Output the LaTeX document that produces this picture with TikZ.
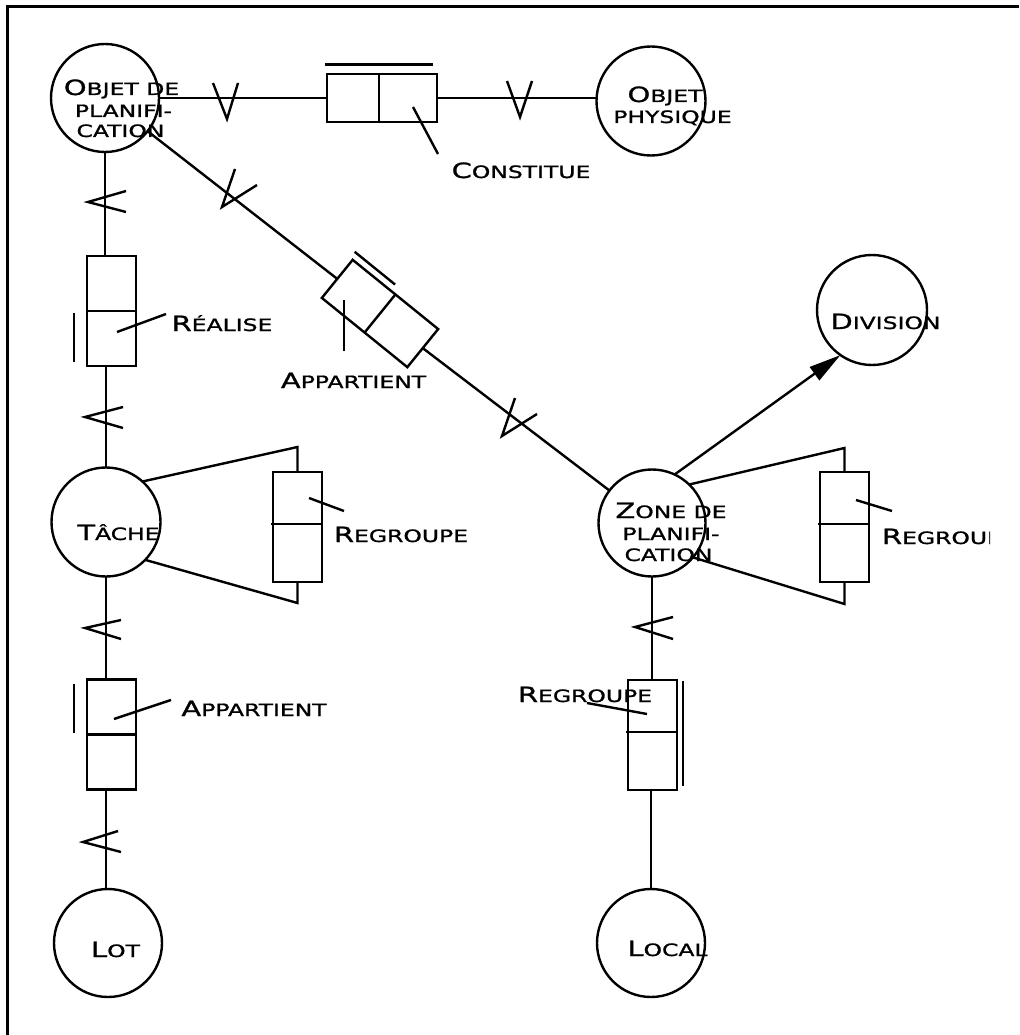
\documentclass[tikz,border=0pt]{standalone}
\usepackage{fontspec}
\newfontfamily\cpfont{DejaVu Sans}[FakeStretch=1.38,FakeBold=1.2]
\usetikzlibrary{arrows.meta}
\newcommand\cpt[2]{{\cpfont\fontsize{21}{24}\selectfont #1\fontsize{17}{20}\selectfont #2}}
\begin{document}
\begin{tikzpicture}[x=1pt,y=-1pt,line width=2.4pt,
  ent/.style={circle,draw,inner sep=0pt,outer sep=0pt,minimum size=#1},
  ent/.default=108pt,
  relv/.style={rectangle,draw,inner sep=0pt,outer sep=0pt,minimum width=49pt,minimum height=110pt},
  relh/.style={rectangle,draw,inner sep=0pt,outer sep=0pt,minimum width=110pt,minimum height=48pt},
  txt/.style={anchor=base,inner sep=0pt,outer sep=0pt},
  frameline/.style={line width=3pt}]
\useasboundingbox (0,0) rectangle (1019,1035);
\draw[frameline] (7,1035) -- (7,7) -- (1019,7);

% entities
\node[ent] (objet) at (105,98) {};
\node[ent=109pt] (phys) at (651,101) {};
\node[ent=110pt] (div) at (872,310) {};
\node[ent=109pt] (tache) at (106,522) {};
\node[ent=107pt] (zone) at (652,523) {};
\node[ent] (lot) at (108,943) {};
\node[ent] (local) at (651,943) {};

% relation boxes
\node[relh] (constB) at (382,98) {};
\node[relv] (realB) at (111.5,311) {};
\node[relh,minimum height=49pt,rotate=-39] (appD) at (380,313.5) {};
\node[relv] (tR) at (297.5,527) {};
\node[relv] (zR) at (844.5,527) {};
\node[relv] (appL) at (111.5,734.5) {};
\node[relv] (zB) at (652.5,735) {};

% dividers
\draw ([xshift=-3pt]constB.north) -- ([xshift=-3pt]constB.south);
\draw (realB.west) -- (realB.east);
\draw (appD.north) -- (appD.south);
\draw ([xshift=-2pt,yshift=3pt]tR.west) -- ([yshift=3pt]tR.east);
\draw ([xshift=-2pt,yshift=3pt]zR.west) -- ([yshift=3pt]zR.east);
\draw (appL.west) -- (appL.east);
\draw ([xshift=-2pt,yshift=3pt]zB.west) -- ([yshift=3pt]zB.east);

% cardinality bars
\draw ([xshift=-2pt,yshift=9.5pt]constB.north west) -- ([xshift=-4pt,yshift=9.5pt]constB.north east);
\draw ([xshift=-13pt,yshift=-2pt]realB.west) -- ([xshift=-13pt,yshift=-51pt]realB.west);
\draw ([xshift=-13pt,yshift=50.5pt]appL.west) -- ([xshift=-13pt,yshift=1.5pt]appL.west);
\draw ([xshift=6pt,yshift=54pt]zB.east) -- ([xshift=6pt,yshift=-51pt]zB.east);
\begin{scope}[shift={(appD.center)},rotate=-39]
  \draw (-58.5pt,32pt) -- (-6.5pt,32pt);
\end{scope}
\draw ([shift={(-36,-13.5)}]appD.center) -- ([shift={(-36,37.5)}]appD.center);

% connectors
\draw (objet.east) -- (constB.west);
\draw (constB.east) -- (constB.east -| phys.west);
\draw (objet) -- (appD.west);
\draw (appD.east) -- (zone);
\draw (objet.south) -- (objet.south |- realB.north);
\draw (tache.north |- realB.south) -- (tache.north);
\draw (tache.south) -- (tache.south |- appL.north);
\draw (tache.south |- appL.south) -- (tache.south |- lot.north);
\draw (tache.48) -- ([yshift=25pt]tR.north) -- (tR.north);
\draw (tR.south) -- ([yshift=-21pt]tR.south) -- (tache.-44);
\draw (zone.46) -- ([yshift=24pt]zR.north) -- (zR.north);
\draw (zR.south) -- ([yshift=-22pt]zR.south) -- (zone.-40);
\draw[-{Triangle[length=32pt,width=16pt]}] (zone.65) -- (div.235);
\draw (zone.south) -- (zone.south |- zB.north);
\draw (zB.south -| local.north) -- (local.north);

% crow-foot ticks
\draw (213,83) -- (227,119) -- (238,83);
\draw (507,81) -- (520,117) -- (532,81);
\draw (126,191) -- (88,202) -- (126,212);
\draw (123,407) -- (85,417) -- (123,428);
\draw (121,620) -- (85,628) -- (121,639);
\draw (118,831) -- (83,842) -- (121,852);
\draw (235,169) -- (222,207) -- (257,185);
\draw (515,398) -- (502,436) -- (537,414);
\draw (673,617) -- (635,627) -- (673,639);

% leaders
\draw ([shift={(31,9)}]constB.center) -- ([shift={(56,56)}]constB.center);
\draw ([shift={(5.5,21)}]realB.center) -- ([shift={(54.5,3)}]realB.center);
\draw ([shift={(11.5,-29)}]tR.center) -- ([shift={(46.5,-16)}]tR.center);
\draw ([shift={(11.5,-27)}]zR.center) -- ([shift={(47.5,-16)}]zR.center);
\draw ([shift={(2.5,-15.5)}]appL.center) -- ([shift={(59.5,-34.5)}]appL.center);
\draw ([shift={(-65.5,-32)}]zB.center) -- ([shift={(-5.5,-21)}]zB.center);

% texts
\node[txt] (tObj1) at (121.5,95) {\cpt{O}{BJET DE}};
\node[txt] (tObj2) at (123.5,117) {\cpt{}{PLANIFI-}};
\node[txt] (tObj3) at (120.5,137) {\cpt{}{CATION}};
\node[txt] (tPhy1) at (665,102) {\cpt{O}{BJET}};
\node[txt] (tPhy2) at (672.5,123) {\cpt{}{PHYSIQUE}};
\node[txt] (tCons) at (521,178) {\cpt{C}{ONSTITUE}};
\node[txt] (tReal) at (222,331) {\cpt{R}{ÉALISE}};
\node[txt] (tAppD) at (353.5,388) {\cpt{A}{PPARTIENT}};
\node[txt] (tDiv) at (885.5,329) {\cpt{D}{IVISION}};
\node[txt] (tTache) at (118.5,540) {\cpt{T}{ÂCHE}};
\node[txt] (tRegT) at (401,542) {\cpt{R}{EGROUPE}};
\node[txt] (tZone1) at (671,518) {\cpt{Z}{ONE DE}};
\node[txt] (tZone2) at (671,540) {\cpt{}{PLANIFI-}};
\node[txt] (tZone3) at (668.5,561) {\cpt{}{CATION}};
\begin{scope}
  \clip (0,0) rectangle (990,1035);
  \node[txt,anchor=base west] (tRegZ) at (882,544) {\cpt{R}{EGROUPE}};
\end{scope}
\node[txt] (tAppL) at (254,716) {\cpt{A}{PPARTIENT}};
\node[txt] (tRegB) at (585,702) {\cpt{R}{EGROUPE}};
\node[txt] (tLot) at (115.5,957) {\cpt{L}{OT}};
\node[txt] (tLocal) at (667.5,956) {\cpt{L}{OCAL}};
\end{tikzpicture}
\end{document}
